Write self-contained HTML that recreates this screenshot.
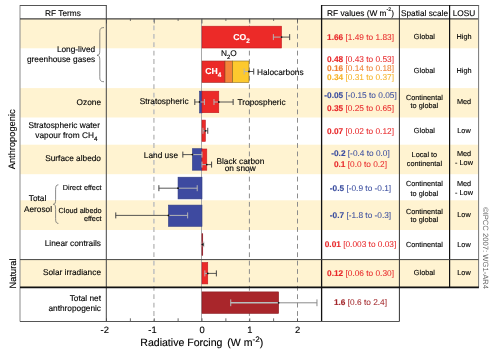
<!DOCTYPE html>
<html><head><meta charset="utf-8"><style>
html,body{margin:0;padding:0;background:#fff;}
svg{display:block;font-family:"Liberation Sans",sans-serif;text-rendering:geometricPrecision;will-change:transform;}
</style></head><body>
<svg width="504" height="352" viewBox="0 0 504 352">
<rect width="504" height="352" fill="#fff"/>
<rect x="20" y="18.7" width="458.6" height="29.60" fill="#fff3d1"/>
<rect x="20" y="88.1" width="458.6" height="29.40" fill="#fff3d1"/>
<rect x="20" y="144.7" width="458.6" height="29.50" fill="#fff3d1"/>
<rect x="20" y="200.3" width="458.6" height="29.70" fill="#fff3d1"/>
<rect x="20" y="259.3" width="458.6" height="28.00" fill="#fff3d1"/>
<line x1="153.9" y1="19" x2="153.9" y2="321" stroke="#c0c0c0" stroke-width="1.5" stroke-dasharray="4.8 3.6" stroke-dashoffset="1.9"/>
<line x1="249.4" y1="19" x2="249.4" y2="321" stroke="#8c8c8c" stroke-width="1.0" stroke-dasharray="4.8 3.6" stroke-dashoffset="1.9"/>
<line x1="297.5" y1="19" x2="297.5" y2="321" stroke="#8c8c8c" stroke-width="1.0" stroke-dasharray="4.8 3.6" stroke-dashoffset="1.9"/>
<line x1="201.5" y1="19" x2="201.5" y2="321" stroke="#a8a8a8" stroke-width="1"/>
<line x1="106.50" y1="18.7" x2="106.50" y2="23.5" stroke="#555" stroke-width="0.8"/>
<line x1="106.50" y1="321.5" x2="106.50" y2="318.3" stroke="#444" stroke-width="0.8"/>
<line x1="130.38" y1="18.7" x2="130.38" y2="21" stroke="#555" stroke-width="0.8"/>
<line x1="130.38" y1="321.5" x2="130.38" y2="318.3" stroke="#444" stroke-width="0.8"/>
<line x1="154.25" y1="18.7" x2="154.25" y2="23.5" stroke="#555" stroke-width="0.8"/>
<line x1="154.25" y1="321.5" x2="154.25" y2="318.3" stroke="#444" stroke-width="0.8"/>
<line x1="178.12" y1="18.7" x2="178.12" y2="21" stroke="#555" stroke-width="0.8"/>
<line x1="178.12" y1="321.5" x2="178.12" y2="318.3" stroke="#444" stroke-width="0.8"/>
<line x1="202.00" y1="18.7" x2="202.00" y2="23.5" stroke="#555" stroke-width="0.8"/>
<line x1="202.00" y1="321.5" x2="202.00" y2="318.3" stroke="#444" stroke-width="0.8"/>
<line x1="225.88" y1="18.7" x2="225.88" y2="21" stroke="#555" stroke-width="0.8"/>
<line x1="225.88" y1="321.5" x2="225.88" y2="318.3" stroke="#444" stroke-width="0.8"/>
<line x1="249.75" y1="18.7" x2="249.75" y2="23.5" stroke="#555" stroke-width="0.8"/>
<line x1="249.75" y1="321.5" x2="249.75" y2="318.3" stroke="#444" stroke-width="0.8"/>
<line x1="273.62" y1="18.7" x2="273.62" y2="21" stroke="#555" stroke-width="0.8"/>
<line x1="273.62" y1="321.5" x2="273.62" y2="318.3" stroke="#444" stroke-width="0.8"/>
<line x1="297.50" y1="18.7" x2="297.50" y2="23.5" stroke="#555" stroke-width="0.8"/>
<line x1="297.50" y1="321.5" x2="297.50" y2="318.3" stroke="#444" stroke-width="0.8"/>
<rect x="202.00" y="26.2" width="79.51" height="21.80" fill="#ec2a28" stroke="#c01d22" stroke-width="0.6"/>
<line x1="273.37" y1="37.1" x2="281.51" y2="37.1" stroke="#b4b4b4" stroke-width="1.0"/>
<line x1="273.37" y1="34.1" x2="273.37" y2="40.1" stroke="#b4b4b4" stroke-width="1"/>
<line x1="281.51" y1="37.1" x2="289.66" y2="37.1" stroke="#444" stroke-width="0.9"/>
<line x1="289.66" y1="34.1" x2="289.66" y2="40.1" stroke="#444" stroke-width="1"/>
<circle cx="281.51" cy="37.1" r="0.9" fill="#111"/>
<rect x="202.00" y="61.0" width="22.99" height="21.50" fill="#ec2a28" stroke="#a03028" stroke-width="0.6"/>
<rect x="224.99" y="61.0" width="7.66" height="21.50" fill="#f4843a" stroke="#8a4a20" stroke-width="0.6"/>
<rect x="232.66" y="61.0" width="16.29" height="21.50" fill="#fdc92e" stroke="#8a6a20" stroke-width="0.6"/>
<line x1="244.15" y1="71.5" x2="248.94" y2="71.5" stroke="#b4b4b4" stroke-width="1.0"/>
<line x1="244.15" y1="68.5" x2="244.15" y2="74.5" stroke="#b4b4b4" stroke-width="1"/>
<line x1="248.94" y1="71.5" x2="253.73" y2="71.5" stroke="#444" stroke-width="0.9"/>
<line x1="253.73" y1="68.5" x2="253.73" y2="74.5" stroke="#444" stroke-width="1"/>
<circle cx="248.94" cy="71.5" r="0.9" fill="#111"/>
<rect x="199.60" y="91.2" width="2.40" height="21.70" fill="#3e4aa0" stroke="#2e3a80" stroke-width="0.6"/>
<rect x="202.00" y="91.2" width="16.76" height="21.50" fill="#ec2a28" stroke="#c01d22" stroke-width="0.6"/>
<line x1="199.60" y1="102" x2="204.40" y2="102" stroke="#b4b4b4" stroke-width="1.0"/>
<line x1="204.40" y1="99.0" x2="204.40" y2="105.0" stroke="#b4b4b4" stroke-width="1"/>
<line x1="194.81" y1="102" x2="199.60" y2="102" stroke="#444" stroke-width="0.9"/>
<line x1="194.81" y1="99.0" x2="194.81" y2="105.0" stroke="#444" stroke-width="1"/>
<circle cx="199.60" cy="102" r="0.9" fill="#111"/>
<line x1="213.97" y1="102" x2="218.76" y2="102" stroke="#b4b4b4" stroke-width="1.0"/>
<line x1="213.97" y1="99.0" x2="213.97" y2="105.0" stroke="#b4b4b4" stroke-width="1"/>
<line x1="218.76" y1="102" x2="233.13" y2="102" stroke="#444" stroke-width="0.9"/>
<line x1="233.13" y1="99.0" x2="233.13" y2="105.0" stroke="#444" stroke-width="1"/>
<circle cx="218.76" cy="102" r="0.9" fill="#111"/>
<rect x="202.00" y="120.1" width="3.35" height="21.30" fill="#ec2a28" stroke="#c01d22" stroke-width="0.6"/>
<line x1="202.96" y1="130.8" x2="205.35" y2="130.8" stroke="#b4b4b4" stroke-width="1.0"/>
<line x1="202.96" y1="127.80000000000001" x2="202.96" y2="133.8" stroke="#b4b4b4" stroke-width="1"/>
<line x1="205.35" y1="130.8" x2="207.75" y2="130.8" stroke="#444" stroke-width="0.9"/>
<line x1="207.75" y1="127.80000000000001" x2="207.75" y2="133.8" stroke="#444" stroke-width="1"/>
<circle cx="205.35" cy="130.8" r="0.9" fill="#111"/>
<rect x="192.42" y="148.7" width="9.58" height="21.50" fill="#3e4aa0" stroke="#2e3a80" stroke-width="0.6"/>
<rect x="202.00" y="149.0" width="4.79" height="21.20" fill="#ec2a28" stroke="#c01d22" stroke-width="0.6"/>
<line x1="192.42" y1="154.6" x2="202.00" y2="154.6" stroke="#b4b4b4" stroke-width="1.0"/>
<line x1="202.00" y1="151.6" x2="202.00" y2="157.6" stroke="#b4b4b4" stroke-width="1"/>
<line x1="182.84" y1="154.6" x2="192.42" y2="154.6" stroke="#444" stroke-width="0.9"/>
<line x1="182.84" y1="151.6" x2="182.84" y2="157.6" stroke="#444" stroke-width="1"/>
<circle cx="192.42" cy="154.6" r="0.9" fill="#111"/>
<line x1="202.00" y1="164.6" x2="206.79" y2="164.6" stroke="#b4b4b4" stroke-width="1.0"/>
<line x1="202.00" y1="161.6" x2="202.00" y2="167.6" stroke="#b4b4b4" stroke-width="1"/>
<line x1="206.79" y1="164.6" x2="211.58" y2="164.6" stroke="#444" stroke-width="0.9"/>
<line x1="211.58" y1="161.6" x2="211.58" y2="167.6" stroke="#444" stroke-width="1"/>
<circle cx="206.79" cy="164.6" r="0.9" fill="#111"/>
<rect x="178.05" y="177.2" width="23.95" height="21.70" fill="#3e4aa0" stroke="#2e3a80" stroke-width="0.6"/>
<line x1="178.05" y1="188.2" x2="197.21" y2="188.2" stroke="#b4b4b4" stroke-width="1.0"/>
<line x1="197.21" y1="185.2" x2="197.21" y2="191.2" stroke="#b4b4b4" stroke-width="1"/>
<line x1="158.89" y1="188.2" x2="178.05" y2="188.2" stroke="#444" stroke-width="0.9"/>
<line x1="158.89" y1="185.2" x2="158.89" y2="191.2" stroke="#444" stroke-width="1"/>
<circle cx="178.05" cy="188.2" r="0.9" fill="#111"/>
<rect x="168.47" y="205.1" width="33.53" height="21.20" fill="#3e4aa0" stroke="#2e3a80" stroke-width="0.6"/>
<line x1="168.47" y1="215.4" x2="187.63" y2="215.4" stroke="#b4b4b4" stroke-width="1.0"/>
<line x1="187.63" y1="212.4" x2="187.63" y2="218.4" stroke="#b4b4b4" stroke-width="1"/>
<line x1="115.78" y1="215.4" x2="168.47" y2="215.4" stroke="#444" stroke-width="0.9"/>
<line x1="115.78" y1="212.4" x2="115.78" y2="218.4" stroke="#444" stroke-width="1"/>
<circle cx="168.47" cy="215.4" r="0.9" fill="#111"/>
<rect x="202.00" y="233.5" width="1.05" height="22.00" fill="#9b2a33"/>
<rect x="200.8" y="241.6" width="3.6" height="5.6" fill="#c8c8c8"/>
<rect x="201.6" y="233.5" width="1.2" height="22" fill="#9b2a33"/>
<path d="M201.2,244.4 L203.6,242.9 L203.6,245.9 Z" fill="#111"/>
<rect x="202.00" y="262.5" width="5.75" height="21.40" fill="#ec2a28" stroke="#c01d22" stroke-width="0.6"/>
<line x1="204.87" y1="273.4" x2="207.75" y2="273.4" stroke="#b4b4b4" stroke-width="1.0"/>
<line x1="204.87" y1="270.4" x2="204.87" y2="276.4" stroke="#b4b4b4" stroke-width="1"/>
<line x1="207.75" y1="273.4" x2="216.37" y2="273.4" stroke="#444" stroke-width="0.9"/>
<line x1="216.37" y1="270.4" x2="216.37" y2="276.4" stroke="#444" stroke-width="1"/>
<circle cx="207.75" cy="273.4" r="0.9" fill="#111"/>
<rect x="202.00" y="291.9" width="76.64" height="21.50" fill="#a9262b" stroke="#8a1d22" stroke-width="0.6"/>
<line x1="230.74" y1="302.8" x2="278.64" y2="302.8" stroke="#b8bebe" stroke-width="1.4"/>
<line x1="230.74" y1="299.40000000000003" x2="230.74" y2="306.2" stroke="#b8bebe" stroke-width="1"/>
<line x1="278.64" y1="302.8" x2="316.96" y2="302.8" stroke="#8a8a8a" stroke-width="1.0"/>
<line x1="316.96" y1="299.40000000000003" x2="316.96" y2="306.2" stroke="#8a8a8a" stroke-width="1"/>
<circle cx="278.64" cy="302.8" r="0.9" fill="#111"/>
<line x1="20" y1="5.0" x2="20" y2="321.5" stroke="#8a8a8a" stroke-width="1"/>
<line x1="20" y1="5.5" x2="106.3" y2="5.5" stroke="#555" stroke-width="1"/>
<line x1="321.6" y1="5.5" x2="479.1" y2="5.5" stroke="#555" stroke-width="1"/>
<line x1="20" y1="18.8" x2="478.6" y2="18.8" stroke="#444" stroke-width="1.3"/>
<line x1="106.3" y1="5.0" x2="106.3" y2="321.5" stroke="#444" stroke-width="1"/>
<line x1="321.6" y1="5.0" x2="321.6" y2="321.5" stroke="#111" stroke-width="1.3"/>
<line x1="399.4" y1="5.0" x2="399.4" y2="321.5" stroke="#333" stroke-width="1"/>
<line x1="449.6" y1="5.0" x2="449.6" y2="287.3" stroke="#111" stroke-width="1.2"/>
<line x1="478.6" y1="5.5" x2="478.6" y2="287.3" stroke="#777" stroke-width="1"/>
<line x1="20" y1="259.6" x2="478.6" y2="259.6" stroke="#444" stroke-width="1"/>
<line x1="20" y1="287.4" x2="478.9" y2="287.4" stroke="#111" stroke-width="1.8"/>
<line x1="20" y1="321.5" x2="399.4" y2="321.5" stroke="#555" stroke-width="1.1"/>
<text x="63" y="15.5" font-size="8.3" fill="#000" stroke="#000" stroke-width="0.12" text-anchor="middle" font-weight="normal">RF Terms</text>
<text x="360.5" y="15.5" font-size="8.3" fill="#000" stroke="#000" stroke-width="0.12" text-anchor="middle" font-weight="normal">RF values (W m<tspan dy="-4.2" font-size="5.2">-2</tspan><tspan dy="4.2">)</tspan></text>
<text x="424.5" y="15.5" font-size="8.3" fill="#000" stroke="#000" stroke-width="0.12" text-anchor="middle" font-weight="normal">Spatial scale</text>
<text x="464" y="15.5" font-size="8.3" fill="#000" stroke="#000" stroke-width="0.12" text-anchor="middle" font-weight="normal">LOSU</text>
<text x="95.2" y="52" font-size="8.3" fill="#000" stroke="#000" stroke-width="0.12" text-anchor="end" font-weight="normal">Long-lived</text>
<text x="95.2" y="61.8" font-size="8.3" fill="#000" stroke="#000" stroke-width="0.12" text-anchor="end" font-weight="normal">greenhouse gases</text>
<path d="M104.0,27.6 C100.3,27.6 99.8,29.1 99.8,32.6 L99.8,50.3 C99.8,53.8 99.3,55.3 97.0,55.3 C99.3,55.3 99.8,56.8 99.8,60.3 L99.8,76.7 C99.8,80.2 100.3,81.7 104.0,81.7" fill="none" stroke="#666" stroke-width="0.75"/>
<text x="101" y="104.6" font-size="8.3" fill="#000" stroke="#000" stroke-width="0.12" text-anchor="end" font-weight="normal">Ozone</text>
<text x="100" y="128.1" font-size="8.3" fill="#000" stroke="#000" stroke-width="0.12" text-anchor="end" font-weight="normal">Stratospheric water</text>
<text x="97.4" y="138.4" font-size="8.3" fill="#000" stroke="#000" stroke-width="0.12" text-anchor="end" font-weight="normal">vapour from CH<tspan dy="2.4" font-size="6.3">4</tspan></text>
<text x="101" y="160.9" font-size="8.3" fill="#000" stroke="#000" stroke-width="0.12" text-anchor="end" font-weight="normal">Surface albedo</text>
<text x="37.5" y="201.4" font-size="8.3" fill="#000" stroke="#000" stroke-width="0.12" text-anchor="middle" font-weight="normal">Total</text>
<text x="38" y="211.6" font-size="8.3" fill="#000" stroke="#000" stroke-width="0.12" text-anchor="middle" font-weight="normal">Aerosol</text>
<path d="M58.4,184.8 C56.1,184.8 55.6,186.3 55.6,189.8 L55.6,199.3 C55.6,202.8 55.1,204.3 53.3,204.3 C55.1,204.3 55.6,205.8 55.6,209.3 L55.6,218.4 C55.6,221.9 56.1,223.4 58.4,223.4" fill="none" stroke="#666" stroke-width="0.75"/>
<text x="101.6" y="189.9" font-size="7.3" fill="#000" stroke="#000" stroke-width="0.12" text-anchor="end" font-weight="normal">Direct effect</text>
<text x="101.6" y="213.2" font-size="7.3" fill="#000" stroke="#000" stroke-width="0.12" text-anchor="end" font-weight="normal">Cloud albedo</text>
<text x="101.6" y="221.3" font-size="7.3" fill="#000" stroke="#000" stroke-width="0.12" text-anchor="end" font-weight="normal">effect</text>
<text x="101" y="246.2" font-size="8.3" fill="#000" stroke="#000" stroke-width="0.12" text-anchor="end" font-weight="normal">Linear contrails</text>
<text x="101" y="275" font-size="8.3" fill="#000" stroke="#000" stroke-width="0.12" text-anchor="end" font-weight="normal">Solar irradiance</text>
<text x="101" y="301.1" font-size="8.3" fill="#000" stroke="#000" stroke-width="0.12" text-anchor="end" font-weight="normal">Total net</text>
<text x="101" y="311" font-size="8.3" fill="#000" stroke="#000" stroke-width="0.12" text-anchor="end" font-weight="normal">anthropogenic</text>
<text transform="translate(15.4,139.3) rotate(-90)" font-size="9.3" fill="#000" stroke="#000" stroke-width="0.12" text-anchor="middle">Anthropogenic</text>
<text transform="translate(16.0,273.5) rotate(-90)" font-size="9.3" fill="#000" stroke="#000" stroke-width="0.12" text-anchor="middle">Natural</text>
<text x="228.9" y="55.8" font-size="8.3" fill="#000" stroke="#000" stroke-width="0.12" text-anchor="middle" font-weight="normal">N<tspan dy="2.8" font-size="6">2</tspan><tspan dy="-2.8">O</tspan></text>
<text x="213.2" y="74.3" font-size="8.6" fill="#fff" stroke="#fff" stroke-width="0.12" text-anchor="middle" font-weight="bold">CH<tspan dy="2.8" font-size="6.4">4</tspan></text>
<text x="241.6" y="40.2" font-size="8.6" fill="#fff" stroke="#fff" stroke-width="0.12" text-anchor="middle" font-weight="bold">CO<tspan dy="2.8" font-size="6.4">2</tspan></text>
<text x="257" y="74.6" font-size="8.3" fill="#000" stroke="#000" stroke-width="0.12" text-anchor="start" font-weight="normal">Halocarbons</text>
<text x="188.6" y="104.2" font-size="8.3" fill="#000" stroke="#000" stroke-width="0.12" text-anchor="end" font-weight="normal">Stratospheric</text>
<text x="237.5" y="104.5" font-size="8.3" fill="#000" stroke="#000" stroke-width="0.12" text-anchor="start" font-weight="normal">Tropospheric</text>
<text x="178" y="157.5" font-size="8.3" fill="#000" stroke="#000" stroke-width="0.12" text-anchor="end" font-weight="normal">Land use</text>
<text x="216.4" y="163.6" font-size="8.3" fill="#000" stroke="#000" stroke-width="0.12" text-anchor="start" font-weight="normal">Black carbon</text>
<text x="240.2" y="170.5" font-size="8.3" fill="#000" stroke="#000" stroke-width="0.12" text-anchor="middle" font-weight="normal">on snow</text>
<text x="104.70" y="333.0" font-size="9.4" fill="#000" stroke="#000" stroke-width="0.12" text-anchor="middle" font-weight="normal">-2</text>
<text x="152.45" y="333.0" font-size="9.4" fill="#000" stroke="#000" stroke-width="0.12" text-anchor="middle" font-weight="normal">-1</text>
<text x="202.00" y="333.0" font-size="9.4" fill="#000" stroke="#000" stroke-width="0.12" text-anchor="middle" font-weight="normal">0</text>
<text x="249.75" y="333.0" font-size="9.4" fill="#000" stroke="#000" stroke-width="0.12" text-anchor="middle" font-weight="normal">1</text>
<text x="297.50" y="333.0" font-size="9.4" fill="#000" stroke="#000" stroke-width="0.12" text-anchor="middle" font-weight="normal">2</text>
<text x="140.3" y="345.7" font-size="10.55" fill="#000" stroke="#000" stroke-width="0.12" text-anchor="start" font-weight="normal">Radiative Forcing</text>
<text x="227.3" y="345.7" font-size="10.55" fill="#000" stroke="#000" stroke-width="0.12" text-anchor="start" font-weight="normal">(W m<tspan dy="-4.2" font-size="8.2">-2</tspan><tspan dy="4.2">)</tspan></text>
<text x="360.5" y="39.8" font-size="8.3" fill="#e8282a" stroke="#e8282a" stroke-width="0.12" text-anchor="middle" font-weight="normal"><tspan font-weight="bold">1.66</tspan> <tspan fill="#e8282a" stroke-width="0.05">[1.49 to 1.83]</tspan></text>
<text x="360.5" y="61.6" font-size="8.3" fill="#e8282a" stroke="#e8282a" stroke-width="0.12" text-anchor="middle" font-weight="normal"><tspan font-weight="bold">0.48</tspan> <tspan fill="#e8282a" stroke-width="0.05">[0.43 to 0.53]</tspan></text>
<text x="360.5" y="71.0" font-size="8.3" fill="#ee8033" stroke="#ee8033" stroke-width="0.12" text-anchor="middle" font-weight="normal"><tspan font-weight="bold">0.16</tspan> <tspan fill="#ee8033" stroke-width="0.05">[0.14 to 0.18]</tspan></text>
<text x="360.5" y="79.9" font-size="8.3" fill="#f6b326" stroke="#f6b326" stroke-width="0.12" text-anchor="middle" font-weight="normal"><tspan font-weight="bold">0.34</tspan> <tspan fill="#f6b326" stroke-width="0.05">[0.31 to 0.37]</tspan></text>
<text x="360.5" y="97.7" font-size="8.3" fill="#3a4d9f" stroke="#3a4d9f" stroke-width="0.12" text-anchor="middle" font-weight="normal"><tspan font-weight="bold">-0.05</tspan> <tspan fill="#3a4d9f" stroke-width="0.05">[-0.15 to 0.05]</tspan></text>
<text x="360.5" y="110.7" font-size="8.3" fill="#e8282a" stroke="#e8282a" stroke-width="0.12" text-anchor="middle" font-weight="normal"><tspan font-weight="bold">0.35</tspan> <tspan fill="#e8282a" stroke-width="0.05">[0.25 to 0.65]</tspan></text>
<text x="360.5" y="133.7" font-size="8.3" fill="#e8282a" stroke="#e8282a" stroke-width="0.12" text-anchor="middle" font-weight="normal"><tspan font-weight="bold">0.07</tspan> <tspan fill="#e8282a" stroke-width="0.05">[0.02 to 0.12]</tspan></text>
<text x="360.5" y="156.4" font-size="8.3" fill="#3a4d9f" stroke="#3a4d9f" stroke-width="0.12" text-anchor="middle" font-weight="normal"><tspan font-weight="bold">-0.2</tspan> <tspan fill="#3a4d9f" stroke-width="0.05">[-0.4 to 0.0]</tspan></text>
<text x="360.5" y="167.1" font-size="8.3" fill="#e8282a" stroke="#e8282a" stroke-width="0.12" text-anchor="middle" font-weight="normal"><tspan font-weight="bold">0.1</tspan> <tspan fill="#e8282a" stroke-width="0.05">[0.0 to 0.2]</tspan></text>
<text x="360.5" y="191.0" font-size="8.3" fill="#3a4d9f" stroke="#3a4d9f" stroke-width="0.12" text-anchor="middle" font-weight="normal"><tspan font-weight="bold">-0.5</tspan> <tspan fill="#3a4d9f" stroke-width="0.05">[-0.9 to -0.1]</tspan></text>
<text x="360.5" y="217.9" font-size="8.3" fill="#3a4d9f" stroke="#3a4d9f" stroke-width="0.12" text-anchor="middle" font-weight="normal"><tspan font-weight="bold">-0.7</tspan> <tspan fill="#3a4d9f" stroke-width="0.05">[-1.8 to -0.3]</tspan></text>
<text x="360.5" y="246.8" font-size="8.3" fill="#e8282a" stroke="#e8282a" stroke-width="0.12" text-anchor="middle" font-weight="normal"><tspan font-weight="bold">0.01</tspan> <tspan fill="#e8282a" stroke-width="0.05">[0.003 to 0.03]</tspan></text>
<text x="360.5" y="275.7" font-size="8.3" fill="#e8282a" stroke="#e8282a" stroke-width="0.12" text-anchor="middle" font-weight="normal"><tspan font-weight="bold">0.12</tspan> <tspan fill="#e8282a" stroke-width="0.05">[0.06 to 0.30]</tspan></text>
<text x="360.5" y="305.1" font-size="8.3" fill="#a3282c" stroke="#a3282c" stroke-width="0.12" text-anchor="middle" font-weight="normal"><tspan font-weight="bold">1.6</tspan> <tspan fill="#a3282c" stroke-width="0.05">[0.6 to 2.4]</tspan></text>
<text x="424.4" y="39.2" font-size="7.3" fill="#000" stroke="#000" stroke-width="0.12" text-anchor="middle" font-weight="normal">Global</text>
<text x="464" y="39.2" font-size="7.3" fill="#000" stroke="#000" stroke-width="0.12" text-anchor="middle" font-weight="normal">High</text>
<text x="424.4" y="73.4" font-size="7.3" fill="#000" stroke="#000" stroke-width="0.12" text-anchor="middle" font-weight="normal">Global</text>
<text x="464" y="73.4" font-size="7.3" fill="#000" stroke="#000" stroke-width="0.12" text-anchor="middle" font-weight="normal">High</text>
<text x="424.4" y="100.4" font-size="7.3" fill="#000" stroke="#000" stroke-width="0.12" text-anchor="middle" font-weight="normal">Continental</text>
<text x="424.4" y="108.0" font-size="7.3" fill="#000" stroke="#000" stroke-width="0.12" text-anchor="middle" font-weight="normal">to global</text>
<text x="464" y="103.8" font-size="7.3" fill="#000" stroke="#000" stroke-width="0.12" text-anchor="middle" font-weight="normal">Med</text>
<text x="424.4" y="132.8" font-size="7.3" fill="#000" stroke="#000" stroke-width="0.12" text-anchor="middle" font-weight="normal">Global</text>
<text x="464" y="132.8" font-size="7.3" fill="#000" stroke="#000" stroke-width="0.12" text-anchor="middle" font-weight="normal">Low</text>
<text x="424.4" y="157.1" font-size="7.3" fill="#000" stroke="#000" stroke-width="0.12" text-anchor="middle" font-weight="normal">Local to</text>
<text x="424.4" y="165.6" font-size="7.3" fill="#000" stroke="#000" stroke-width="0.12" text-anchor="middle" font-weight="normal">continental</text>
<text x="464" y="156.2" font-size="7.3" fill="#000" stroke="#000" stroke-width="0.12" text-anchor="middle" font-weight="normal">Med</text>
<text x="464" y="165.1" font-size="7.3" fill="#000" stroke="#000" stroke-width="0.12" text-anchor="middle" font-weight="normal">- Low</text>
<text x="424.4" y="186.4" font-size="7.3" fill="#000" stroke="#000" stroke-width="0.12" text-anchor="middle" font-weight="normal">Continental</text>
<text x="424.4" y="195.5" font-size="7.3" fill="#000" stroke="#000" stroke-width="0.12" text-anchor="middle" font-weight="normal">to global</text>
<text x="464" y="186.4" font-size="7.3" fill="#000" stroke="#000" stroke-width="0.12" text-anchor="middle" font-weight="normal">Med</text>
<text x="464" y="195.3" font-size="7.3" fill="#000" stroke="#000" stroke-width="0.12" text-anchor="middle" font-weight="normal">- Low</text>
<text x="424.4" y="213.8" font-size="7.3" fill="#000" stroke="#000" stroke-width="0.12" text-anchor="middle" font-weight="normal">Continental</text>
<text x="424.4" y="222.3" font-size="7.3" fill="#000" stroke="#000" stroke-width="0.12" text-anchor="middle" font-weight="normal">to global</text>
<text x="464" y="217.2" font-size="7.3" fill="#000" stroke="#000" stroke-width="0.12" text-anchor="middle" font-weight="normal">Low</text>
<text x="424.4" y="246.5" font-size="7.3" fill="#000" stroke="#000" stroke-width="0.12" text-anchor="middle" font-weight="normal">Continental</text>
<text x="464" y="246.5" font-size="7.3" fill="#000" stroke="#000" stroke-width="0.12" text-anchor="middle" font-weight="normal">Low</text>
<text x="424.4" y="275.0" font-size="7.3" fill="#000" stroke="#000" stroke-width="0.12" text-anchor="middle" font-weight="normal">Global</text>
<text x="464" y="275.0" font-size="7.3" fill="#000" stroke="#000" stroke-width="0.12" text-anchor="middle" font-weight="normal">Low</text>
<text transform="translate(482.8,207) rotate(90)" font-size="7.65" fill="#666" text-anchor="start">©IPCC 2007: WG1-AR4</text>
</svg>
</body></html>
